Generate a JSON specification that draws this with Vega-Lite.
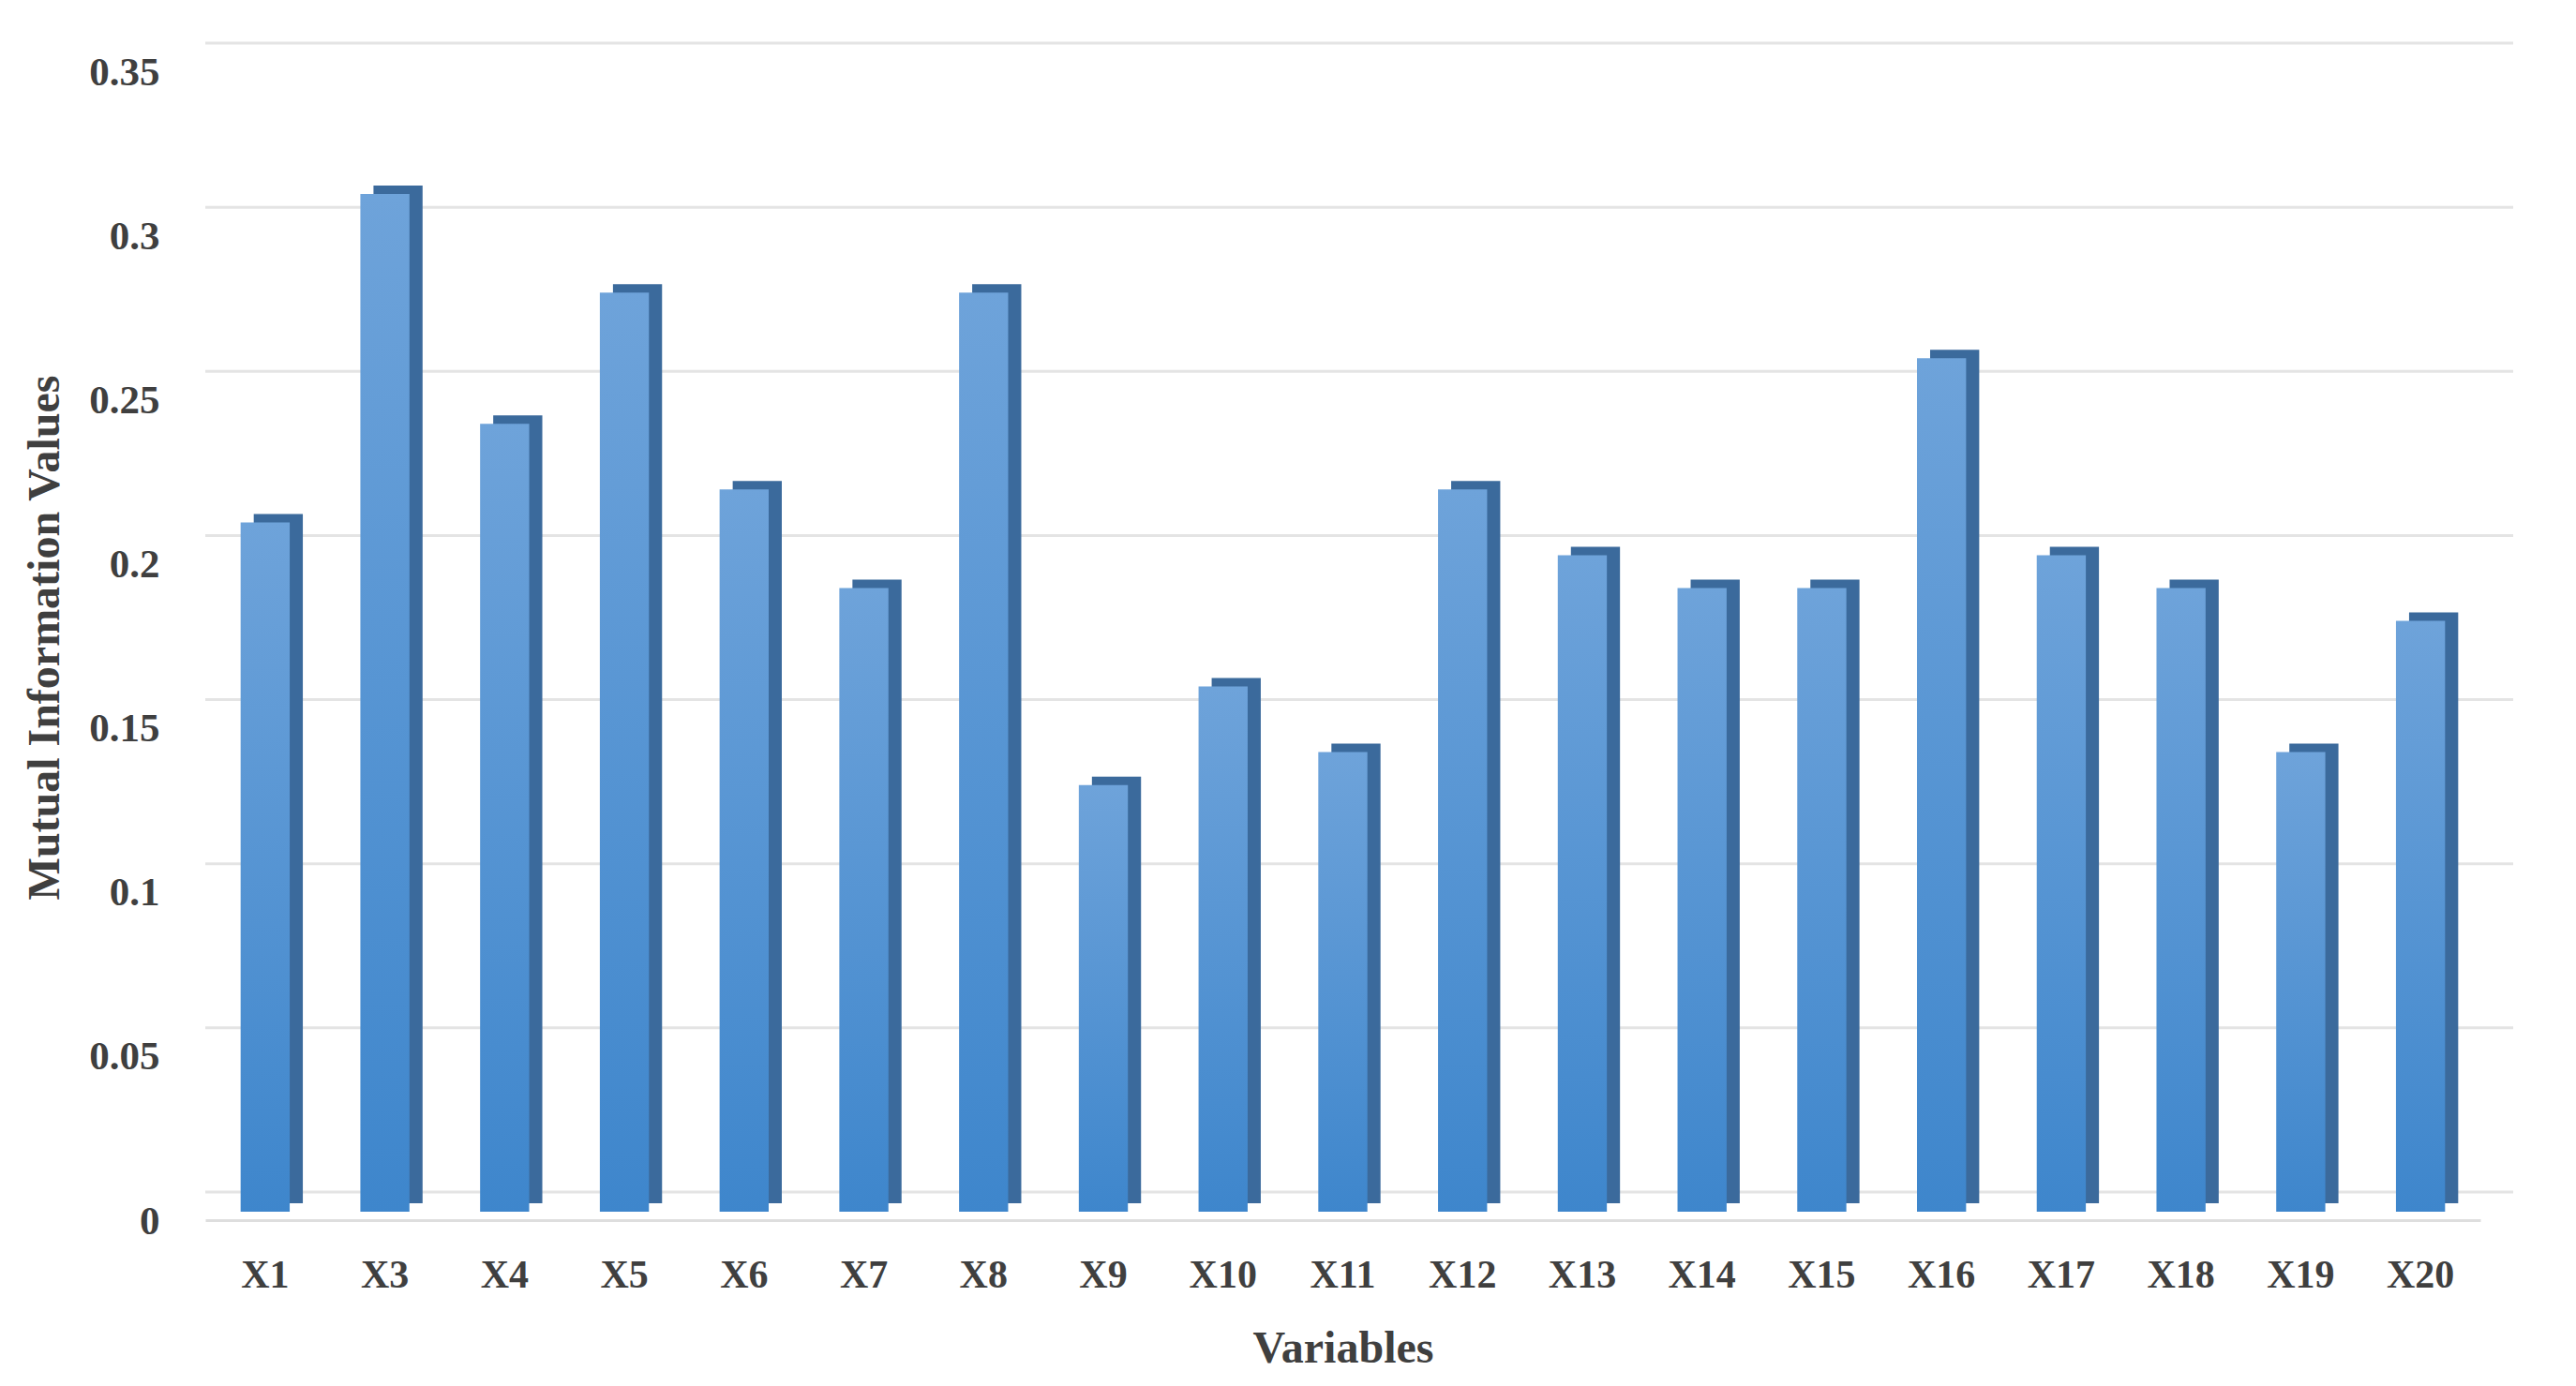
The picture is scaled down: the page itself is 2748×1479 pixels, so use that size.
{
  "$schema": "https://vega.github.io/schema/vega-lite/v6.json",
  "autosize": {"type": "none"},
  "width": 2427,
  "height": 1226,
  "padding": {"left": 219, "top": 67, "right": 102, "bottom": 186},
  "background": "white",
  "datasets": {
    "mi": [
      {"variable": "X1", "value": 0.21},
      {"variable": "X3", "value": 0.31},
      {"variable": "X4", "value": 0.24},
      {"variable": "X5", "value": 0.28},
      {"variable": "X6", "value": 0.22},
      {"variable": "X7", "value": 0.19},
      {"variable": "X8", "value": 0.28},
      {"variable": "X9", "value": 0.13},
      {"variable": "X10", "value": 0.16},
      {"variable": "X11", "value": 0.14},
      {"variable": "X12", "value": 0.22},
      {"variable": "X13", "value": 0.20},
      {"variable": "X14", "value": 0.19},
      {"variable": "X15", "value": 0.19},
      {"variable": "X16", "value": 0.26},
      {"variable": "X17", "value": 0.20},
      {"variable": "X18", "value": 0.19},
      {"variable": "X19", "value": 0.14},
      {"variable": "X20", "value": 0.18}
    ],
    "grid": [
      {"value": 0}, {"value": 0.05}, {"value": 0.1}, {"value": 0.15}, {"value": 0.2}, {"value": 0.25}, {"value": 0.3}, {"value": 0.35}
    ]
  },
  "config": {
    "view": {"stroke": null},
    "axis": {
      "labelFont": "Liberation Serif",
      "titleFont": "Liberation Serif",
      "labelColor": "#3f3f3f",
      "titleColor": "#3f3f3f",
      "labelFontWeight": "bold",
      "titleFontWeight": "bold",
      "grid": false,
      "ticks": false
    }
  },
  "encoding": {
    "y": {"field": "value", "type": "quantitative", "scale": {"domain": [0, 0.35]},
          "axis": {"title": "Mutual Information Values", "values": [0, 0.05, 0.1, 0.15, 0.2, 0.25, 0.3, 0.35],
                   "format": "~g",
                   "labelFontSize": 43, "titleFontSize": 48, "ticks": false, "domain": false, "grid": false,
                   "labelPadding": 49, "labelOffset": 10, "titlePadding": 22, "labelFlush": false}}
  },
  "layer": [
    {
      "data": {"name": "grid"},
      "mark": {"type": "rule", "color": "#e4e4e4", "strokeWidth": 3, "yOffset": -21, "xOffset": 35}
    },
    {
      "data": {"name": "mi"},
      "mark": {"type": "bar", "color": "#3b6a9c", "xOffset": 14, "yOffset": -9},
      "encoding": {
        "x": {"field": "variable", "type": "nominal", "sort": null,
              "scale": {"paddingInner": 0.59, "paddingOuter": 0.295},
              "axis": {"title": "Variables", "labelAngle": 0, "labelFontSize": 42, "titleFontSize": 48,
                       "ticks": false, "domain": true, "domainColor": "#dedede", "domainWidth": 3,
                       "offset": 9, "labelPadding": 38, "titlePadding": 34, "grid": false}}
      }
    },
    {
      "data": {"name": "mi"},
      "mark": {
        "type": "bar",
        "color": {
          "gradient": "linear", "x1": 0, "y1": 0, "x2": 0, "y2": 1,
          "stops": [{"offset": 0, "color": "#6ea3da"}, {"offset": 1, "color": "#3e86cc"}]
        }
      },
      "encoding": {
        "x": {"field": "variable", "type": "nominal", "sort": null,
              "scale": {"paddingInner": 0.59, "paddingOuter": 0.295}}
      }
    }
  ]
}
